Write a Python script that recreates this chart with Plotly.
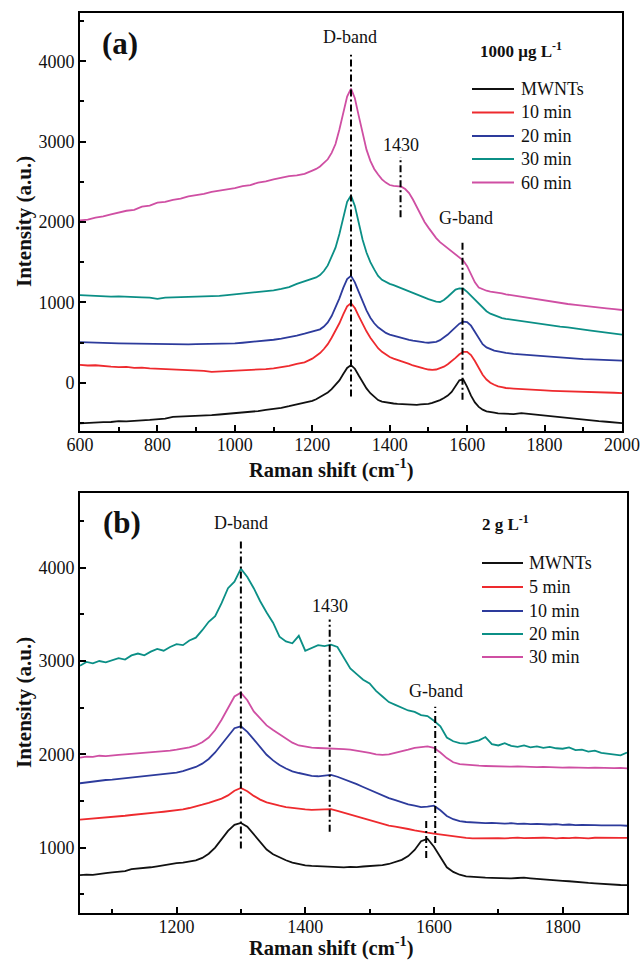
import plotly.graph_objects as go

# ---------------- Panel (a): 1000 ug/L, Raman shift 600-2000 cm^-1 ----------------
A_SHIFT = [600, 620, 640, 660, 680, 700, 720, 740, 760, 780, 800, 820, 840, 860, 880,
           900, 920, 940, 960, 980, 1000, 1020, 1040, 1060, 1080, 1100, 1120, 1140, 1160, 1180,
           1200, 1210, 1220, 1230, 1240, 1250, 1260, 1270, 1280, 1290, 1300, 1310, 1320, 1330,
           1340, 1350, 1360, 1370, 1380, 1390, 1400, 1410, 1420, 1430, 1440, 1450, 1460, 1470,
           1480, 1490, 1500, 1510, 1520, 1530, 1540, 1550, 1560, 1570, 1580, 1590, 1600, 1610,
           1620, 1630, 1640, 1650, 1660, 1670, 1680, 1690, 1700,
           1720, 1740, 1760, 1780, 1800, 1820, 1840, 1860, 1880, 1900, 1920, 1940, 1960, 1980, 2000]

A_MWNT = [-505, -498, -500, -490, -488, -478, -480, -470, -468, -462, -458, -445, -425, -422, -415,
          -412, -405, -402, -395, -388, -378, -372, -360, -352, -338, -326, -312, -292, -270, -248,
          -225, -205, -180, -150, -120, -80, -30, 30, 110, 185, 220, 175, 90, 10,
          -70, -130, -175, -215, -235, -245, -252, -258, -262, -265, -268, -272, -270, -275,
          -270, -268, -262, -250, -235, -215, -190, -160, -115, -50, 30, 40, -50, -160,
          -245, -300, -335, -355, -368, -372, -380, -382, -388,
          -390, -378, -388, -402, -412, -425, -432, -442, -450, -460, -468, -478, -485, -494, -502]

A_10MIN = [222, 215, 218, 205, 200, 195, 198, 185, 188, 178, 175, 170, 168, 162, 160,
           152, 148, 135, 140, 142, 145, 150, 155, 160, 170, 180, 195, 210, 235, 255,
           300, 330, 370, 420, 480, 560, 650, 740, 850, 950, 990, 930, 830, 730,
           640, 560, 490, 430, 385, 350, 320, 300, 285, 270, 255, 235, 215, 200,
           185, 175, 165, 160, 165, 180, 200, 230, 265, 310, 355, 385, 385, 345,
           270, 180, 100, 40, 0, -25, -45, -55, -65,
           -72, -80, -85, -90, -95, -100, -102, -108, -110, -112, -115, -118, -120, -124, -128]

A_20MIN = [505, 500, 498, 495, 492, 490, 488, 485, 482, 480, 478, 480, 478, 480, 478,
           480, 482, 480, 485, 488, 490, 498, 505, 515, 525, 535, 550, 565, 585, 610,
           635, 650, 665, 700, 750, 830, 930, 1050, 1180, 1290, 1330, 1250, 1130, 1010,
           900, 810, 740, 690, 650, 620, 600, 585, 570, 558, 545, 535, 525, 515,
           508, 502, 498, 500, 510, 530, 560, 600, 645, 695, 735, 760, 755, 710,
           630, 545, 480, 440, 415, 400, 390, 380, 372,
           360, 352, 345, 338, 330, 322, 315, 308, 300, 295, 290, 285, 282, 278, 275]

A_30MIN = [1090, 1085, 1078, 1082, 1072, 1075, 1068, 1065, 1062, 1058, 1045, 1060, 1062, 1065, 1070,
           1068, 1075, 1072, 1080, 1090, 1100, 1108, 1115, 1125, 1140, 1150, 1168, 1190, 1230, 1260,
           1290, 1310, 1340, 1390, 1460, 1560, 1680, 1850, 2050, 2250, 2330, 2200, 1990, 1780,
           1620, 1500, 1410, 1330, 1280, 1250, 1230, 1215, 1195, 1175, 1160, 1145, 1125, 1100,
           1080, 1060, 1040, 1025, 1010, 1005, 1030, 1070, 1120, 1160, 1175, 1170, 1130, 1080,
           1040, 985, 935, 890, 860, 840, 820, 805, 795,
           780, 765, 752, 738, 722, 710, 698, 688, 672, 662, 648, 635, 622, 610, 600]

A_60MIN = [2020, 2030, 2055, 2070, 2095, 2115, 2140, 2150, 2190, 2205, 2240, 2250, 2275, 2290, 2320,
           2335, 2350, 2375, 2390, 2400, 2420, 2445, 2460, 2490, 2505, 2530, 2550, 2570, 2580, 2600,
           2640, 2660, 2690, 2730, 2780, 2860, 2970, 3150, 3370, 3560, 3660, 3540, 3320, 3090,
           2900, 2760, 2660, 2590, 2530, 2490, 2460, 2450, 2445, 2440, 2410, 2360, 2280, 2190,
           2090, 2000, 1930, 1860, 1800, 1750, 1710, 1670, 1630, 1590, 1560, 1520, 1450, 1350,
           1250, 1185, 1160, 1145, 1135, 1130, 1122, 1112, 1100,
           1085, 1070, 1055, 1038, 1018, 1005, 995, 980, 968, 955, 945, 935, 925, 915, 905]

A_NAMES = ["MWNTs", "10 min", "20 min", "30 min", "60 min"]
A_SERIES = [A_MWNT, A_10MIN, A_20MIN, A_30MIN, A_60MIN]

# band markers (position, lower end, upper end) and their labels
A_MARK_X = [1300, 1428, 1588]
A_MARK_LO = [-170, 2060, -210]
A_MARK_HI = [4080, 2810, 1760]
A_LABEL_TEXT = ["D-band", "1430", "G-band"]
A_LABEL_X = [1298, 1429, 1597]
A_LABEL_Y = [4297, 2956, 2049]

# ---------------- Panel (b): 2 g/L, Raman shift 1050-1900 cm^-1 ----------------
B_SHIFT = [1050, 1060, 1070, 1080, 1090, 1100, 1110, 1120, 1130, 1140, 1150, 1160, 1170, 1180, 1190,
           1200, 1210, 1220, 1230, 1240, 1250, 1260, 1270, 1280, 1290, 1300, 1310, 1320, 1330, 1340,
           1350, 1360, 1370, 1380, 1390, 1400, 1410, 1420, 1430, 1440, 1450, 1460, 1470, 1480, 1490,
           1500, 1510, 1520, 1530, 1540, 1550, 1560, 1570, 1580, 1590, 1600, 1610, 1620, 1630, 1640,
           1650, 1660, 1670, 1680, 1690, 1700, 1710, 1720, 1730, 1740, 1750, 1760, 1770, 1780, 1790,
           1800, 1810, 1820, 1830, 1840, 1850, 1860, 1870, 1880, 1890, 1900]

B_MWNT = [705, 712, 708, 720, 728, 735, 742, 748, 770, 775, 782, 790, 800, 812, 825,
          835, 840, 850, 865, 890, 935, 1000, 1090, 1180, 1245, 1265, 1225, 1140, 1055, 980,
          930, 895, 865, 840, 825, 810, 805, 800, 795, 790, 792, 788, 795, 792, 798,
          800, 805, 812, 825, 845, 870, 910, 975, 1070, 1095, 1010, 900, 790, 740, 710,
          692, 685, 680, 678, 676, 672, 668, 670, 675, 678, 672, 665, 660, 655, 650,
          645, 640, 632, 628, 622, 618, 612, 608, 602, 600, 598]

B_5MIN = [1300, 1305, 1310, 1318, 1322, 1330, 1335, 1342, 1350, 1355, 1362, 1370, 1378, 1385, 1392,
          1400, 1410, 1425, 1440, 1460, 1480, 1500, 1525, 1560, 1610, 1640, 1605, 1555, 1515, 1485,
          1465, 1450, 1435, 1425, 1415, 1410, 1405, 1408, 1410, 1412, 1395, 1375, 1355, 1335, 1315,
          1295, 1270, 1250, 1235, 1225, 1215, 1200, 1185, 1170, 1160, 1150, 1140, 1130, 1120, 1110,
          1105, 1100, 1102, 1100, 1105, 1102, 1100, 1105, 1108, 1102, 1105, 1100, 1106, 1104, 1100,
          1105, 1102, 1108, 1104, 1100, 1106, 1104, 1102, 1106, 1104, 1105]

B_10MIN = [1690, 1700, 1710, 1715, 1725, 1730, 1738, 1745, 1750, 1755, 1762, 1770, 1780, 1788, 1795,
           1805, 1820, 1840, 1865, 1900, 1950, 2020, 2110, 2200, 2280, 2300, 2240, 2160, 2080, 1995,
           1935, 1885, 1848, 1818, 1800, 1785, 1770, 1765, 1775, 1780, 1760, 1735, 1710, 1680, 1650,
           1620, 1590, 1560, 1530, 1510, 1485, 1465, 1450, 1435, 1440, 1450, 1400, 1340, 1305, 1285,
           1275, 1268, 1265, 1262, 1265, 1260, 1258, 1262, 1255, 1258, 1252, 1255, 1250, 1248, 1252,
           1245, 1248, 1242, 1245, 1240, 1242, 1238, 1240, 1236, 1238, 1235]

B_20MIN = [2950, 2990, 2975, 3000, 2985, 3010, 3030, 3015, 3060, 3080, 3060, 3100, 3130, 3110, 3150,
           3180, 3170, 3220, 3250, 3330, 3420, 3480, 3620, 3780, 3850, 3990, 3900, 3780, 3640, 3520,
           3410, 3260, 3210, 3190, 3270, 3110, 3140, 3170, 3160, 3175, 3150, 3030, 2920, 2860, 2800,
           2760, 2680, 2620, 2560, 2530, 2500, 2470, 2455, 2420, 2410, 2360, 2300, 2180, 2140, 2120,
           2115, 2130, 2150, 2185, 2110, 2095, 2120, 2090, 2080, 2095, 2075, 2085, 2070, 2080, 2065,
           2060, 2075, 2045, 2050, 2030, 2040, 2015, 2005, 1995, 1990, 2020]

B_30MIN = [1965, 1975, 1972, 1985, 1980, 1990, 1995, 2000, 2005, 2010, 2015, 2020, 2030, 2035, 2040,
           2050, 2060, 2075, 2095, 2130, 2180, 2260, 2370, 2500, 2620, 2660, 2580, 2460, 2380, 2310,
           2260, 2215, 2170, 2125, 2095, 2080, 2072, 2068, 2065, 2068, 2060, 2055, 2050, 2040, 2030,
           2015, 2000, 1995, 2000, 2015, 2030, 2050, 2070, 2080, 2085, 2070, 2020, 1960, 1915, 1895,
           1888, 1880, 1878, 1875, 1872, 1870, 1872, 1868, 1870, 1865, 1868, 1862, 1865, 1860, 1862,
           1858, 1860, 1856, 1858, 1855, 1857, 1853, 1855, 1852, 1854, 1850]

B_NAMES = ["MWNTs", "5 min", "10 min", "20 min", "30 min"]
B_SERIES = [B_MWNT, B_5MIN, B_10MIN, B_20MIN, B_30MIN]

B_MARK_X = [1300, 1438, 1602, 1588]
B_MARK_LO = [990, 1170, 1050, 890]
B_MARK_HI = [4300, 3444, 2510, 1300]
B_LABEL_TEXT = ["D-band", "1430", "G-band"]
B_LABEL_X = [1300, 1439, 1603]
B_LABEL_Y = [4483, 3584, 2683]

COLORS = ["#111111", "#ee2a2e", "#2d3b9c", "#0b8f86", "#cf4fa3"]
FONT = "Liberation Serif"

# page geometry (pixels) used to place the legends and axis titles
W, H = 641, 961
ML, MR, MT, MB = 80, 14, 13, 48
PLOT_W = W - ML - MR
PLOT_H = H - MT - MB


def px_x(px):
    return (px - ML) / PLOT_W


def px_y(py):
    return (H - MB - py) / PLOT_H


fig = go.Figure()

for name, ys, col in zip(A_NAMES, A_SERIES, COLORS):
    fig.add_trace(go.Scatter(x=A_SHIFT, y=ys, name=name, mode="lines",
                             line=dict(color=col, width=1.8), showlegend=False,
                             xaxis="x", yaxis="y"))
for name, ys, col in zip(B_NAMES, B_SERIES, COLORS):
    fig.add_trace(go.Scatter(x=B_SHIFT, y=ys, name=name, mode="lines",
                             line=dict(color=col, width=1.8), showlegend=False,
                             xaxis="x2", yaxis="y2"))

# dash-dot band markers
DASHDOT = "7px,3px,2px,3px"
for xs, lo, hi in zip(A_MARK_X, A_MARK_LO, A_MARK_HI):
    fig.add_trace(go.Scatter(x=[xs, xs], y=[lo, hi], mode="lines", showlegend=False,
                             line=dict(color="black", width=2, dash=DASHDOT),
                             xaxis="x", yaxis="y", hoverinfo="skip"))
for xs, lo, hi in zip(B_MARK_X, B_MARK_LO, B_MARK_HI):
    fig.add_trace(go.Scatter(x=[xs, xs], y=[lo, hi], mode="lines", showlegend=False,
                             line=dict(color="black", width=2, dash=DASHDOT),
                             xaxis="x2", yaxis="y2", hoverinfo="skip"))

annotations = []
shapes = []
for t, ax, ay in zip(A_LABEL_TEXT, A_LABEL_X, A_LABEL_Y):
    annotations.append(dict(text=t, x=ax, y=ay, xref="x", yref="y", showarrow=False,
                            font=dict(family=FONT, size=18, color="#111")))
for t, ax, ay in zip(B_LABEL_TEXT, B_LABEL_X, B_LABEL_Y):
    annotations.append(dict(text=t, x=ax, y=ay, xref="x2", yref="y2", showarrow=False,
                            font=dict(family=FONT, size=18, color="#111")))

annotations += [
    dict(text="<b>(a)</b>", x=703, y=4220, xref="x", yref="y", showarrow=False,
         font=dict(family=FONT, size=31, color="#111")),
    dict(text="<b>1000 μg L<sup>-1</sup></b>", x=1740, y=4135, xref="x", yref="y", showarrow=False,
         font=dict(family=FONT, size=17, color="#111")),
    dict(text="<b>(b)</b>", x=1116, y=4483, xref="x2", yref="y2", showarrow=False,
         font=dict(family=FONT, size=31, color="#111")),
    dict(text="<b>2 g L<sup>-1</sup></b>", x=1711, y=4483, xref="x2", yref="y2", showarrow=False,
         font=dict(family=FONT, size=17, color="#111")),
]

# axis titles
XTITLE = "<b>Raman shift (cm<sup>-1</sup>)</b>"
YTITLE = "<b>Intensity (a.u.)</b>"
title_font = dict(family=FONT, size=21, color="#111")
xtitle_font = dict(family=FONT, size=20.5, color="#111")
annotations += [
    dict(text=XTITLE, x=px_x(331), y=px_y(469), xref="paper", yref="paper",
         showarrow=False, font=xtitle_font, xanchor="center", yanchor="middle"),
    dict(text=XTITLE, x=px_x(331), y=px_y(947), xref="paper", yref="paper",
         showarrow=False, font=xtitle_font, xanchor="center", yanchor="middle"),
    dict(text=YTITLE, x=px_x(24), y=px_y(222), xref="paper", yref="paper", textangle=-90,
         showarrow=False, font=title_font, xanchor="center", yanchor="middle"),
    dict(text=YTITLE, x=px_x(24), y=px_y(703), xref="paper", yref="paper", textangle=-90,
         showarrow=False, font=title_font, xanchor="center", yanchor="middle"),
]

# legends: short line swatch followed by the series name
LEG_A = dict(x0=472, x1=514, text_x=519, rows=[89, 112.5, 136, 159, 182.5])
LEG_B = dict(x0=482, x1=523, text_x=527, rows=[563, 587, 611, 634, 657])
for leg, names in ((LEG_A, A_NAMES), (LEG_B, B_NAMES)):
    for name, col, row in zip(names, COLORS, leg["rows"]):
        shapes.append(dict(type="line", xref="paper", yref="paper",
                           x0=px_x(leg["x0"]), x1=px_x(leg["x1"]),
                           y0=px_y(row), y1=px_y(row),
                           line=dict(color=col, width=2)))
        annotations.append(dict(text=name, x=px_x(leg["text_x"]), y=px_y(row),
                                xref="paper", yref="paper", showarrow=False,
                                xanchor="left", yanchor="middle",
                                font=dict(family=FONT, size=18, color="#111")))

tickfont = dict(family=FONT, size=18, color="#111")


def xaxis_style(rng, dtick, domain, anchor):
    return dict(range=rng, dtick=dtick, tick0=0, domain=domain, anchor=anchor,
                showline=True, mirror=True, linecolor="black", linewidth=2,
                ticks="inside", ticklen=6, tickwidth=1.5, tickcolor="black",
                minor=dict(ticks="inside", ticklen=4, tickwidth=1.5, tickcolor="black", dtick=dtick / 2),
                showgrid=False, zeroline=False, tickfont=tickfont, automargin=False,
                ticklabelstandoff=-4)


def yaxis_style(rng, domain, anchor):
    return dict(range=rng, dtick=1000, tick0=0, domain=domain, anchor=anchor,
                showline=True, mirror=True, linecolor="black", linewidth=2,
                ticks="inside", ticklen=6, tickwidth=1.5, tickcolor="black",
                minor=dict(ticks="inside", ticklen=4, tickwidth=1.5, tickcolor="black", dtick=500),
                showgrid=False, zeroline=False, tickfont=tickfont, automargin=False)


fig.update_layout(
    width=W, height=H,
    margin=dict(l=ML, r=MR, t=MT, b=MB),
    paper_bgcolor="white", plot_bgcolor="white",
    xaxis=xaxis_style([600, 2000], 200, [0, px_x(622)], "y"),
    yaxis=yaxis_style([-600, 4600], [px_y(431), 1.0], "x"),
    xaxis2=xaxis_style([1050, 1900], 200, [0, 1.0], "y2"),
    yaxis2=yaxis_style([300, 4800], [0.0, px_y(493)], "x2"),
    annotations=annotations,
    shapes=shapes,
    showlegend=False,
)

fig.write_html("out.html")
